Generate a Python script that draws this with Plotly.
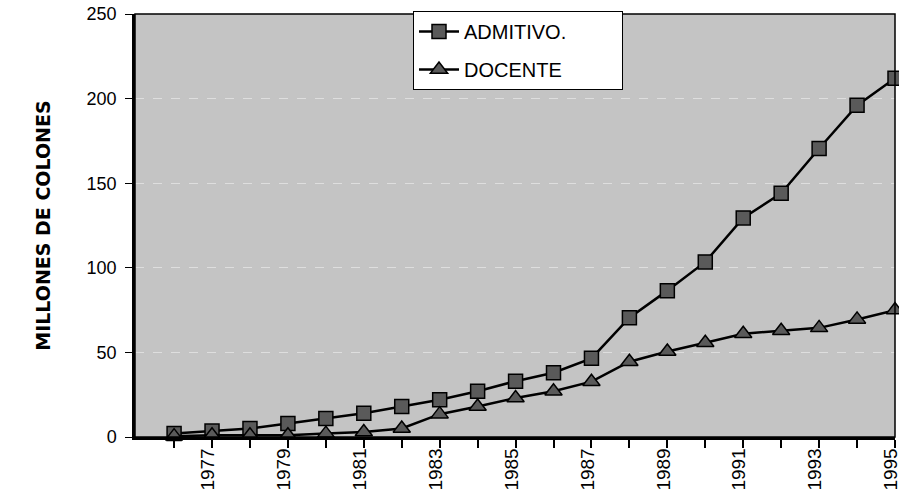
import plotly.graph_objects as go

years = list(range(1976, 1996))
admitivo = [2, 3.5, 5, 8, 11, 14, 18, 22, 27, 33, 38, 46.5, 70.5, 86.5, 103.5, 129.5, 144, 170.5, 196, 212]
docente = [0.5, 1, 1, 1, 2, 3, 5, 13.5, 18, 23, 27, 32.7, 44.5, 50.5, 55.7, 61, 62.8, 64.5, 69.5, 75]
x_ticks = list(range(1977, 1996, 2))
y_ticks = [0, 50, 100, 150, 200, 250]
y_title = "MILLONES DE COLONES"
series_names = ["ADMITIVO.", "DOCENTE"]

font = "Liberation Sans, Arial, sans-serif"
pad = "\u00a0" * 9

fig = go.Figure()
fig.add_trace(go.Scatter(
    x=years, y=admitivo, name=series_names[0] + pad, mode="lines+markers", legendgroup="a",
    line=dict(color="black", width=2.5),
    marker=dict(symbol="square", size=14, color="#5a5a5a", line=dict(color="black", width=1.5)),
    cliponaxis=False,
))
fig.add_trace(go.Scatter(
    x=years, y=docente, name=series_names[1] + pad, mode="lines+markers", legendgroup="b",
    line=dict(color="black", width=2.5),
    marker=dict(symbol="triangle-up", size=15, color="#5a5a5a", line=dict(color="black", width=1.5)),
    cliponaxis=False,
))

fig.update_layout(
    width=899, height=493,
    margin=dict(l=135, r=4, t=14, b=56, autoexpand=False),
    paper_bgcolor="white",
    plot_bgcolor="#c4c4c4",
    font=dict(family=font, size=18, color="black"),
    showlegend=True,
    legend=dict(
        xref="container", yref="container",
        x=413 / 899, y=1 - 11 / 493, xanchor="left", yanchor="top",
        bgcolor="white", bordercolor="black", borderwidth=1,
        font=dict(family=font, size=20, color="black"),
        itemwidth=40, tracegroupgap=9,
    ),
    xaxis=dict(
        range=[1974.97, 1995.0],
        tickmode="array", tickvals=x_ticks, ticktext=[str(v) for v in x_ticks],
        tickangle=-90, ticks="outside", ticklen=8, tickwidth=1.5, tickcolor="black",
        minor=dict(tickmode="array", tickvals=years, ticks="outside", ticklen=8, tickwidth=1.5, tickcolor="black", showgrid=False),
        showgrid=False, zeroline=False, automargin=False,
        showline=True, linecolor="black", linewidth=2.5, mirror=False,
        tickfont=dict(family=font, size=19),
        ticklabeloverflow="allow", ticklabelstandoff=-7, ticklabelshift=-4,
    ),
    yaxis=dict(
        range=[0, 250], tickvals=y_ticks,
        ticks="outside", ticklen=7, tickwidth=1, tickcolor="black",
        showgrid=True, gridcolor="#dedede", griddash="dash", gridwidth=1,
        zeroline=False, automargin=False,
        showline=True, linecolor="black", linewidth=2.5, mirror=False,
        tickfont=dict(family=font, size=18),
        ticklabeloverflow="allow", ticklabelstandoff=5,
    ),
)
fig.add_annotation(
    text="<b>" + y_title + "</b>", textangle=-90,
    xref="paper", yref="paper", x=-0.122, y=0.5, xanchor="center", yanchor="middle",
    showarrow=False, font=dict(family="DejaVu Sans", size=19, color="black"),
)
# thin frame top and right
fig.add_shape(type="rect", xref="paper", yref="paper", x0=0, y0=0, x1=1, y1=1,
              line=dict(color="black", width=1.5), layer="above")

fig.write_html("out.html", config={"displayModeBar": False},
               post_script="document.body.style.margin='0';document.body.style.overflow='hidden';")
